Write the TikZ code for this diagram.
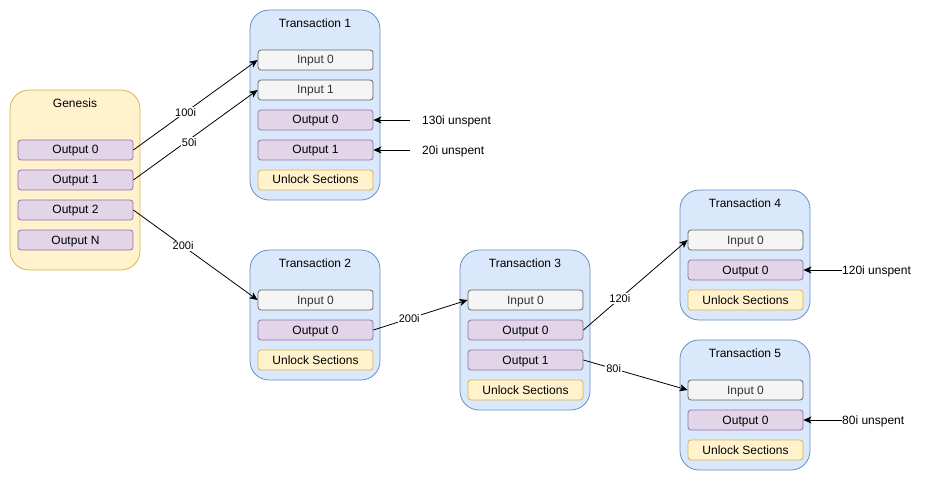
\documentclass[tikz,border=0pt]{standalone}
\usepackage{fontspec}
\setmainfont{Liberation Sans}
\usetikzlibrary{arrows.meta,positioning}
\definecolor{txfill}{HTML}{DAE8FC}
\definecolor{txdraw}{HTML}{6C8EBF}
\definecolor{genfill}{HTML}{FFF2CC}
\definecolor{gendraw}{HTML}{D6B656}
\definecolor{outfill}{HTML}{E1D5E7}
\definecolor{outdraw}{HTML}{9673A6}
\definecolor{inpfill}{HTML}{F5F5F5}
\definecolor{inpdraw}{HTML}{666666}
\definecolor{inptext}{HTML}{333333}

\begin{document}
\begin{tikzpicture}[x=1pt,y=-1pt,
  box/.style={draw,rounded corners=19pt,line width=0.8pt,minimum width=130pt,inner sep=0pt},
  tx/.style={box,draw=txdraw,fill=txfill},
  gen/.style={box,draw=gendraw,fill=genfill},
  slot/.style={draw,rounded corners=3pt,line width=0.8pt,minimum width=115pt,minimum height=20pt,inner sep=0pt,text height=8.6pt,text depth=0.6pt,font=\fontsize{12}{14}\selectfont},
  inp/.style={slot,draw=inpdraw,fill=inpfill,text=inptext},
  outp/.style={slot,draw=outdraw,fill=outfill},
  unl/.style={slot,draw=gendraw,fill=genfill},
  ttl/.style={font=\fontsize{12}{14}\selectfont,text height=8.6pt,text depth=0pt,inner sep=0pt},
  arr/.style={-{Stealth[length=8pt,width=7pt,inset=2pt]},line width=0.8pt},
  lab/.style={font=\fontsize{11}{13}\selectfont,fill=white,inner sep=1pt},
  note/.style={font=\fontsize{12}{14}\selectfont,anchor=west,inner sep=0pt,text height=8.6pt,text depth=0pt}]
\useasboundingbox (0,0) rectangle (931,481);
% genesis
\node[gen,minimum height=180pt] (gen) at (75,180) {};
\node[ttl] (gent) at (75,103) {Genesis};
\node[outp] (g0) at (75.5,150) {Output 0};
\node[outp] (g1) at (75.5,180) {Output 1};
\node[outp] (g2) at (75.5,210) {Output 2};
\node[outp] (gN) at (75.5,240) {Output N};
% transaction 1
\node[tx,minimum height=190pt] (t1) at (315,105) {};
\node[ttl] (t1t) at (315,23) {Transaction 1};
\node[inp] (t1i0) at (315.5,60) {Input 0};
\node[inp] (t1i1) at (315.5,90) {Input 1};
\node[outp] (t1o0) at (315.5,120) {Output 0};
\node[outp] (t1o1) at (315.5,150) {Output 1};
\node[unl] (t1u) at (315.5,180) {Unlock Sections};
% transaction 2
\node[tx,minimum height=130pt] (t2) at (315,315) {};
\node[ttl] (t2t) at (315,263) {Transaction 2};
\node[inp] (t2i0) at (315.5,300) {Input 0};
\node[outp] (t2o0) at (315.5,330) {Output 0};
\node[unl] (t2u) at (315.5,360) {Unlock Sections};
% transaction 3
\node[tx,minimum height=160pt] (t3) at (525,330) {};
\node[ttl] (t3t) at (525,263) {Transaction 3};
\node[inp] (t3i0) at (525.5,300) {Input 0};
\node[outp] (t3o0) at (525.5,330) {Output 0};
\node[outp] (t3o1) at (525.5,360) {Output 1};
\node[unl] (t3u) at (525.5,390) {Unlock Sections};
% transaction 4
\node[tx,minimum height=130pt] (t4) at (745,255) {};
\node[ttl] (t4t) at (745,203) {Transaction 4};
\node[inp] (t4i0) at (745.5,240) {Input 0};
\node[outp] (t4o0) at (745.5,270) {Output 0};
\node[unl] (t4u) at (745.5,300) {Unlock Sections};
% transaction 5
\node[tx,minimum height=130pt] (t5) at (745,405) {};
\node[ttl] (t5t) at (745,353) {Transaction 5};
\node[inp] (t5i0) at (745.5,390) {Input 0};
\node[outp] (t5o0) at (745.5,420) {Output 0};
\node[unl] (t5u) at (745.5,450) {Unlock Sections};
% unspent notes
\node[note] (n1) at (422,120) {130i unspent};
\node[note] (n2) at (422,150) {20i unspent};
\node[note] (n3) at (842,270) {120i unspent};
\node[note] (n4) at (842,420) {80i unspent};
% spending
\draw[arr] (g0.east)--node[lab,pos=0.42]{100i}(t1i0.west);
\draw[arr] (g1.east)--node[lab,pos=0.45,yshift=-3pt]{50i}(t1i1.west);
\draw[arr] (g2.east)--node[lab,pos=0.4]{200i}(t2i0.west);
\draw[arr] (t2o0.east)--node[lab,pos=0.38]{200i}(t3i0.west);
\draw[arr] (t3o0.east)--node[lab,pos=0.35]{120i}(t4i0.west);
\draw[arr] (t3o1.east)--node[lab,pos=0.29]{80i}(t5i0.west);
\draw[arr,shorten <=12pt] (n1.west)--(t1o0.east);
\draw[arr,shorten <=12pt] (n2.west)--(t1o1.east);
\draw[arr] (n3.west)--(t4o0.east);
\draw[arr] (n4.west)--(t5o0.east);
\end{tikzpicture}
\end{document}
